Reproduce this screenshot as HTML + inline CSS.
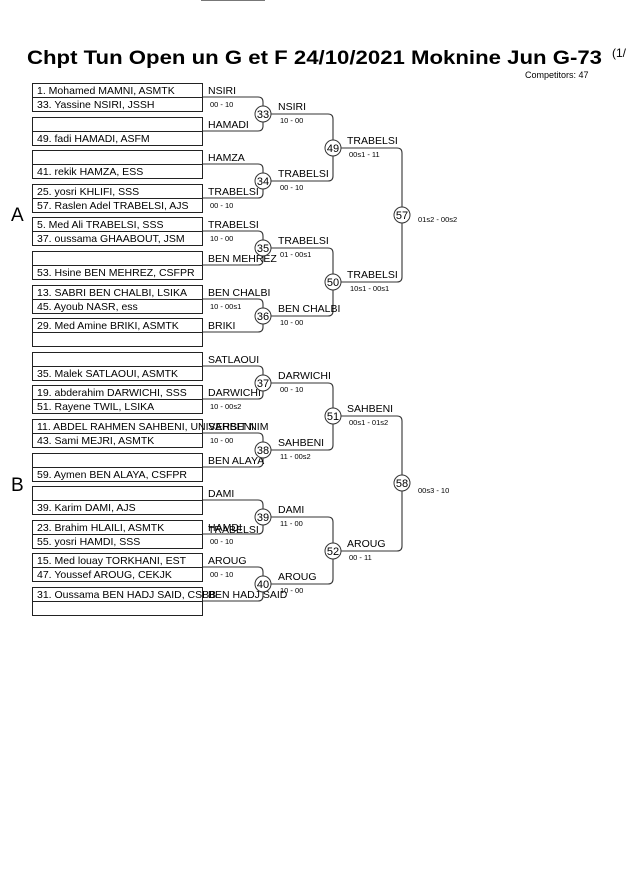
<!DOCTYPE html>
<html><head><meta charset="utf-8"><style>
html,body{margin:0;padding:0;background:#fff;width:630px;height:891px;overflow:hidden}
svg{display:block}
text{font-family:"Liberation Sans",Arial,sans-serif;fill:#000}
.n{font-size:10.5px}
.s{font-size:7.5px}
.b rect{fill:none;stroke:#222;stroke-width:1}
.l path{fill:none;stroke:#333;stroke-width:1.1}
circle{fill:#fff;stroke:#333;stroke-width:1}
.c{font-size:11px;text-anchor:middle}
</style></head><body>
<svg width="630" height="891" viewBox="0 0 630 891">
<line x1="201" y1="0.5" x2="265" y2="0.5" stroke="#777" stroke-width="1"/>
<text x="27" y="64" style="font-size:19.5px;font-weight:bold" textLength="575" lengthAdjust="spacingAndGlyphs">Chpt Tun Open un G et F  24/10/2021  Moknine   Jun G-73</text>
<text x="612" y="57" style="font-size:12px">(1/</text>
<text x="525" y="78" style="font-size:9px">Competitors: 47</text>
<text x="11" y="221" style="font-size:19px">A</text>
<text x="11" y="491" style="font-size:19px">B</text>

<g class="l">
<!-- round1 -->
<path d="M202,97H258Q263,97 263,102V126Q263,131 258,131H202"/>
<path d="M202,164H258Q263,164 263,169V193Q263,198 258,198H202"/>
<path d="M202,231H258Q263,231 263,236V260Q263,265 258,265H202"/>
<path d="M202,299H258Q263,299 263,304V327Q263,332 258,332H202"/>
<path d="M202,366H258Q263,366 263,371V394Q263,399 258,399H202"/>
<path d="M202,433H258Q263,433 263,438V462Q263,467 258,467H202"/>
<path d="M202,500H258Q263,500 263,505V529Q263,534 258,534H202"/>
<path d="M202,567H258Q263,567 263,572V596Q263,601 258,601H202"/>
<!-- round2 -->
<path d="M263,114H328Q333,114 333,119V176Q333,181 328,181H263"/>
<path d="M263,248H328Q333,248 333,253V311Q333,316 328,316H263"/>
<path d="M263,383H328Q333,383 333,388V445Q333,450 328,450H263"/>
<path d="M263,517H328Q333,517 333,522V579Q333,584 328,584H263"/>
<!-- round3 -->
<path d="M333,148H397Q402,148 402,153V277Q402,282 397,282H333"/>
<path d="M333,416H397Q402,416 402,421V546Q402,551 397,551H333"/>
</g>

<g class="b">
<rect x="32.5" y="83.5" width="170" height="28"/><line x1="32" y1="97.5" x2="202" y2="97.5" stroke="#222"/>
<rect x="32.5" y="117.5" width="170" height="28"/><line x1="32" y1="131.5" x2="202" y2="131.5" stroke="#222"/>
<rect x="32.5" y="150.5" width="170" height="28"/><line x1="32" y1="164.5" x2="202" y2="164.5" stroke="#222"/>
<rect x="32.5" y="184.5" width="170" height="28"/><line x1="32" y1="198.5" x2="202" y2="198.5" stroke="#222"/>
<rect x="32.5" y="217.5" width="170" height="28"/><line x1="32" y1="231.5" x2="202" y2="231.5" stroke="#222"/>
<rect x="32.5" y="251.5" width="170" height="28"/><line x1="32" y1="265.5" x2="202" y2="265.5" stroke="#222"/>
<rect x="32.5" y="285.5" width="170" height="28"/><line x1="32" y1="299.5" x2="202" y2="299.5" stroke="#222"/>
<rect x="32.5" y="318.5" width="170" height="28"/><line x1="32" y1="332.5" x2="202" y2="332.5" stroke="#222"/>
<rect x="32.5" y="352.5" width="170" height="28"/><line x1="32" y1="366.5" x2="202" y2="366.5" stroke="#222"/>
<rect x="32.5" y="385.5" width="170" height="28"/><line x1="32" y1="399.5" x2="202" y2="399.5" stroke="#222"/>
<rect x="32.5" y="419.5" width="170" height="28"/><line x1="32" y1="433.5" x2="202" y2="433.5" stroke="#222"/>
<rect x="32.5" y="453.5" width="170" height="28"/><line x1="32" y1="467.5" x2="202" y2="467.5" stroke="#222"/>
<rect x="32.5" y="486.5" width="170" height="28"/><line x1="32" y1="500.5" x2="202" y2="500.5" stroke="#222"/>
<rect x="32.5" y="520.5" width="170" height="28"/><line x1="32" y1="534.5" x2="202" y2="534.5" stroke="#222"/>
<rect x="32.5" y="553.5" width="170" height="28"/><line x1="32" y1="567.5" x2="202" y2="567.5" stroke="#222"/>
<rect x="32.5" y="587.5" width="170" height="28"/><line x1="32" y1="601.5" x2="202" y2="601.5" stroke="#222"/>
</g>

<g class="n">
<text x="37" y="94">1. Mohamed MAMNI, ASMTK</text>
<text x="37" y="108">33. Yassine NSIRI, JSSH</text>
<text x="37" y="142">49. fadi HAMADI, ASFM</text>
<text x="37" y="175">41. rekik HAMZA, ESS</text>
<text x="37" y="195">25. yosri KHLIFI, SSS</text>
<text x="37" y="209">57. Raslen Adel TRABELSI, AJS</text>
<text x="37" y="228">5. Med Ali TRABELSI, SSS</text>
<text x="37" y="242">37. oussama GHAABOUT, JSM</text>
<text x="37" y="276">53. Hsine BEN MEHREZ, CSFPR</text>
<text x="37" y="296">13. SABRI BEN CHALBI, LSIKA</text>
<text x="37" y="310">45. Ayoub NASR, ess</text>
<text x="37" y="329">29. Med Amine BRIKI, ASMTK</text>
<text x="37" y="377">35. Malek SATLAOUI, ASMTK</text>
<text x="37" y="396">19. abderahim DARWICHI, SSS</text>
<text x="37" y="410">51. Rayene TWIL, LSIKA</text>
<text x="37" y="430">11. ABDEL RAHMEN SAHBENI, UNIVERSIT NIM</text>
<text x="37" y="444">43. Sami MEJRI, ASMTK</text>
<text x="37" y="478">59. Aymen BEN ALAYA, CSFPR</text>
<text x="37" y="511">39. Karim DAMI, AJS</text>
<text x="37" y="531">23. Brahim HLAILI, ASMTK</text>
<text x="37" y="545">55. yosri HAMDI, SSS</text>
<text x="37" y="564">15. Med louay TORKHANI, EST</text>
<text x="37" y="578">47. Youssef AROUG, CEKJK</text>
<text x="37" y="598">31. Oussama BEN HADJ SAID, CSBB</text>

<text x="208" y="94">NSIRI</text>
<text x="208" y="128">HAMADI</text>
<text x="208" y="161">HAMZA</text>
<text x="208" y="195">TRABELSI</text>
<text x="208" y="228">TRABELSI</text>
<text x="208" y="262">BEN MEHREZ</text>
<text x="208" y="296">BEN CHALBI</text>
<text x="208" y="329">BRIKI</text>
<text x="208" y="363">SATLAOUI</text>
<text x="208" y="396">DARWICHI</text>
<text x="208" y="430">SAHBENI</text>
<text x="208" y="464">BEN ALAYA</text>
<text x="208" y="497">DAMI</text>
<text x="208" y="531">HAMDI</text>
<text x="208" y="533">TRABELSI</text>
<text x="208" y="564">AROUG</text>
<text x="208" y="598">BEN HADJ SAID</text>

<text x="278" y="110">NSIRI</text>
<text x="278" y="177">TRABELSI</text>
<text x="278" y="244">TRABELSI</text>
<text x="278" y="312">BEN CHALBI</text>
<text x="278" y="379">DARWICHI</text>
<text x="278" y="446">SAHBENI</text>
<text x="278" y="513">DAMI</text>
<text x="278" y="580">AROUG</text>

<text x="347" y="144">TRABELSI</text>
<text x="347" y="278">TRABELSI</text>
<text x="347" y="412">SAHBENI</text>
<text x="347" y="547">AROUG</text>
</g>

<g class="s">
<text x="210" y="107">00 - 10</text>
<text x="210" y="208">00 - 10</text>
<text x="210" y="241">10 - 00</text>
<text x="210" y="309">10 - 00s1</text>
<text x="210" y="409">10 - 00s2</text>
<text x="210" y="443">10 - 00</text>
<text x="210" y="544">00 - 10</text>
<text x="210" y="577">00 - 10</text>

<text x="280" y="123">10 - 00</text>
<text x="280" y="190">00 - 10</text>
<text x="280" y="257">01 - 00s1</text>
<text x="280" y="325">10 - 00</text>
<text x="280" y="392">00 - 10</text>
<text x="280" y="459">11 - 00s2</text>
<text x="280" y="526">11 - 00</text>
<text x="280" y="593">10 - 00</text>

<text x="349" y="157">00s1 - 11</text>
<text x="350" y="291">10s1 - 00s1</text>
<text x="349" y="425">00s1 - 01s2</text>
<text x="349" y="560">00 - 11</text>

<text x="418" y="222">01s2 - 00s2</text>
<text x="418" y="493">00s3 - 10</text>
</g>

<g>
<circle cx="263" cy="114" r="8"/><text class="c" x="263" y="118">33</text>
<circle cx="263" cy="181" r="8"/><text class="c" x="263" y="185">34</text>
<circle cx="263" cy="248" r="8"/><text class="c" x="263" y="252">35</text>
<circle cx="263" cy="316" r="8"/><text class="c" x="263" y="320">36</text>
<circle cx="263" cy="383" r="8"/><text class="c" x="263" y="387">37</text>
<circle cx="263" cy="450" r="8"/><text class="c" x="263" y="454">38</text>
<circle cx="263" cy="517" r="8"/><text class="c" x="263" y="521">39</text>
<circle cx="263" cy="584" r="8"/><text class="c" x="263" y="588">40</text>
<circle cx="333" cy="148" r="8"/><text class="c" x="333" y="152">49</text>
<circle cx="333" cy="282" r="8"/><text class="c" x="333" y="286">50</text>
<circle cx="333" cy="416" r="8"/><text class="c" x="333" y="420">51</text>
<circle cx="333" cy="551" r="8"/><text class="c" x="333" y="555">52</text>
<circle cx="402" cy="215" r="8"/><text class="c" x="402" y="219">57</text>
<circle cx="402" cy="483" r="8"/><text class="c" x="402" y="487">58</text>
</g>
</svg>
</body></html>
